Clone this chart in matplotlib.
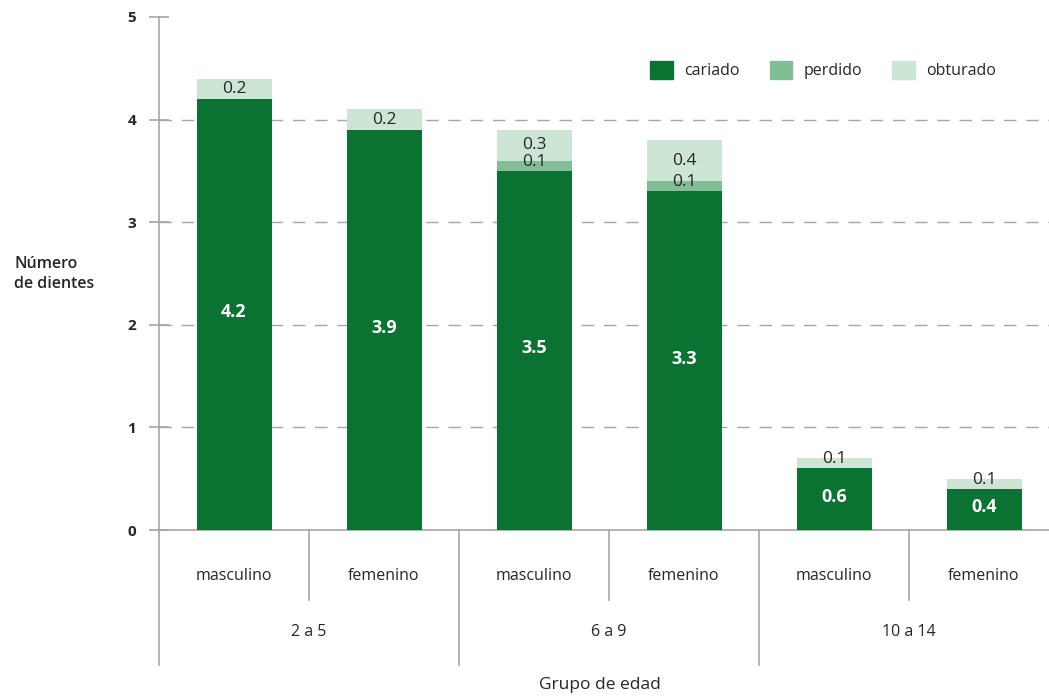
import numpy as np
import matplotlib.pyplot as plt
from matplotlib.patches import Patch

plt.rcParams['font.family'] = ['Open Sans', 'DejaVu Sans']

sexos = ["masculino", "femenino", "masculino", "femenino", "masculino", "femenino"]
grupos = ["2 a 5", "6 a 9", "10 a 14"]
cariado = [4.2, 3.9, 3.5, 3.3, 0.6, 0.4]
perdido = [0.0, 0.0, 0.1, 0.1, 0.0, 0.0]
obturado = [0.2, 0.2, 0.3, 0.4, 0.1, 0.1]

c_car = "#0a7331"
c_per = "#80bf95"
c_obt = "#cce5d4"
gris = "#a6a6a6"
texto = "#262626"

W, H = 1049, 696
fig = plt.figure(figsize=(W / 100, H / 100), dpi=100)
ax = fig.add_axes([159 / W, (H - 530) / H, 900 / W, 513 / H])

x = np.arange(len(sexos))
cariado = np.array(cariado)
perdido = np.array(perdido)
obturado = np.array(obturado)

ax.bar(x, cariado, width=0.5, color=c_car, zorder=3)
ax.bar(x, perdido, width=0.5, bottom=cariado, color=c_per, zorder=3)
ax.bar(x, obturado, width=0.5, bottom=cariado + perdido, color=c_obt, zorder=3)

# etiquetas de valores
for i in range(len(x)):
    ax.text(x[i], cariado[i] / 2 + 0.02, f"{cariado[i]:.1f}", ha="center", va="center",
            color="white", fontsize=13, fontweight="bold", zorder=4)
    if perdido[i] > 0:
        ax.text(x[i], cariado[i] + max(perdido[i] / 2, 0.09), f"{perdido[i]:.1f}",
                ha="center", va="center", color=texto, fontsize=12.5, zorder=4)
    if obturado[i] > 0:
        base = cariado[i] + perdido[i]
        ax.text(x[i], base + max(obturado[i] / 2, 0.09), f"{obturado[i]:.1f}",
                ha="center", va="center", color=texto, fontsize=12.5, zorder=4)

ax.set_xlim(-0.5, 5.5)
ax.set_ylim(0, 5)
ax.set_yticks([0, 1, 2, 3, 4, 5])
ax.set_xticks([])
ax.tick_params(axis="y", direction="inout", length=15, width=1.2, color=gris,
               pad=9, labelsize=11, labelcolor=texto)
for lab in ax.get_yticklabels():
    lab.set_fontweight("bold")

for s in ["top", "right"]:
    ax.spines[s].set_visible(False)
ax.spines["left"].set_color(gris)
ax.spines["bottom"].set_color(gris)
ax.spines["left"].set_linewidth(1.2)
ax.spines["bottom"].set_linewidth(1.2)

for v in [1, 2, 3, 4]:
    ax.axhline(v, color=gris, lw=1.0, linestyle=(0, (9, 7)), zorder=1)

# separadores y etiquetas del eje x
tr = ax.get_xaxis_transform()
px = 1 / 513
for xs in [0.5, 2.5, 4.5]:
    ax.plot([xs, xs], [0, -70 * px], color=gris, lw=1.2, transform=tr, clip_on=False)
for xs in [-0.5, 1.5, 3.5]:
    ax.plot([xs, xs], [0, -135 * px], color=gris, lw=1.2, transform=tr, clip_on=False)
for i, s in enumerate(sexos):
    ax.text(x[i], -46 * px, s, transform=tr, ha="center", va="center",
            fontsize=11.5, color=texto)
for j, g in enumerate(grupos):
    ax.text(2 * j + 0.5, -102 * px, g, transform=tr, ha="center", va="center",
            fontsize=11.5, color=texto)

fig.text(600 / W, 1 - 685 / H, "Grupo de edad", ha="center", va="center",
         fontsize=12.5, color=texto)
fig.text(14 / W, 1 - 274 / H, "Número\nde dientes", ha="left", va="center",
         fontsize=11.5, color=texto, fontweight="semibold", linespacing=1.3)

handles = [Patch(color=c_car, label="cariado"),
           Patch(color=c_per, label="perdido"),
           Patch(color=c_obt, label="obturado")]
fig.legend(handles=handles, loc="center left", bbox_to_anchor=(636 / W, 1 - 70 / H),
           ncol=3, frameon=False, fontsize=11.5, handlelength=1.4, handleheight=1.4,
           handletextpad=0.7, columnspacing=1.9, labelcolor=texto)

fig.savefig("out.png", dpi=100)
